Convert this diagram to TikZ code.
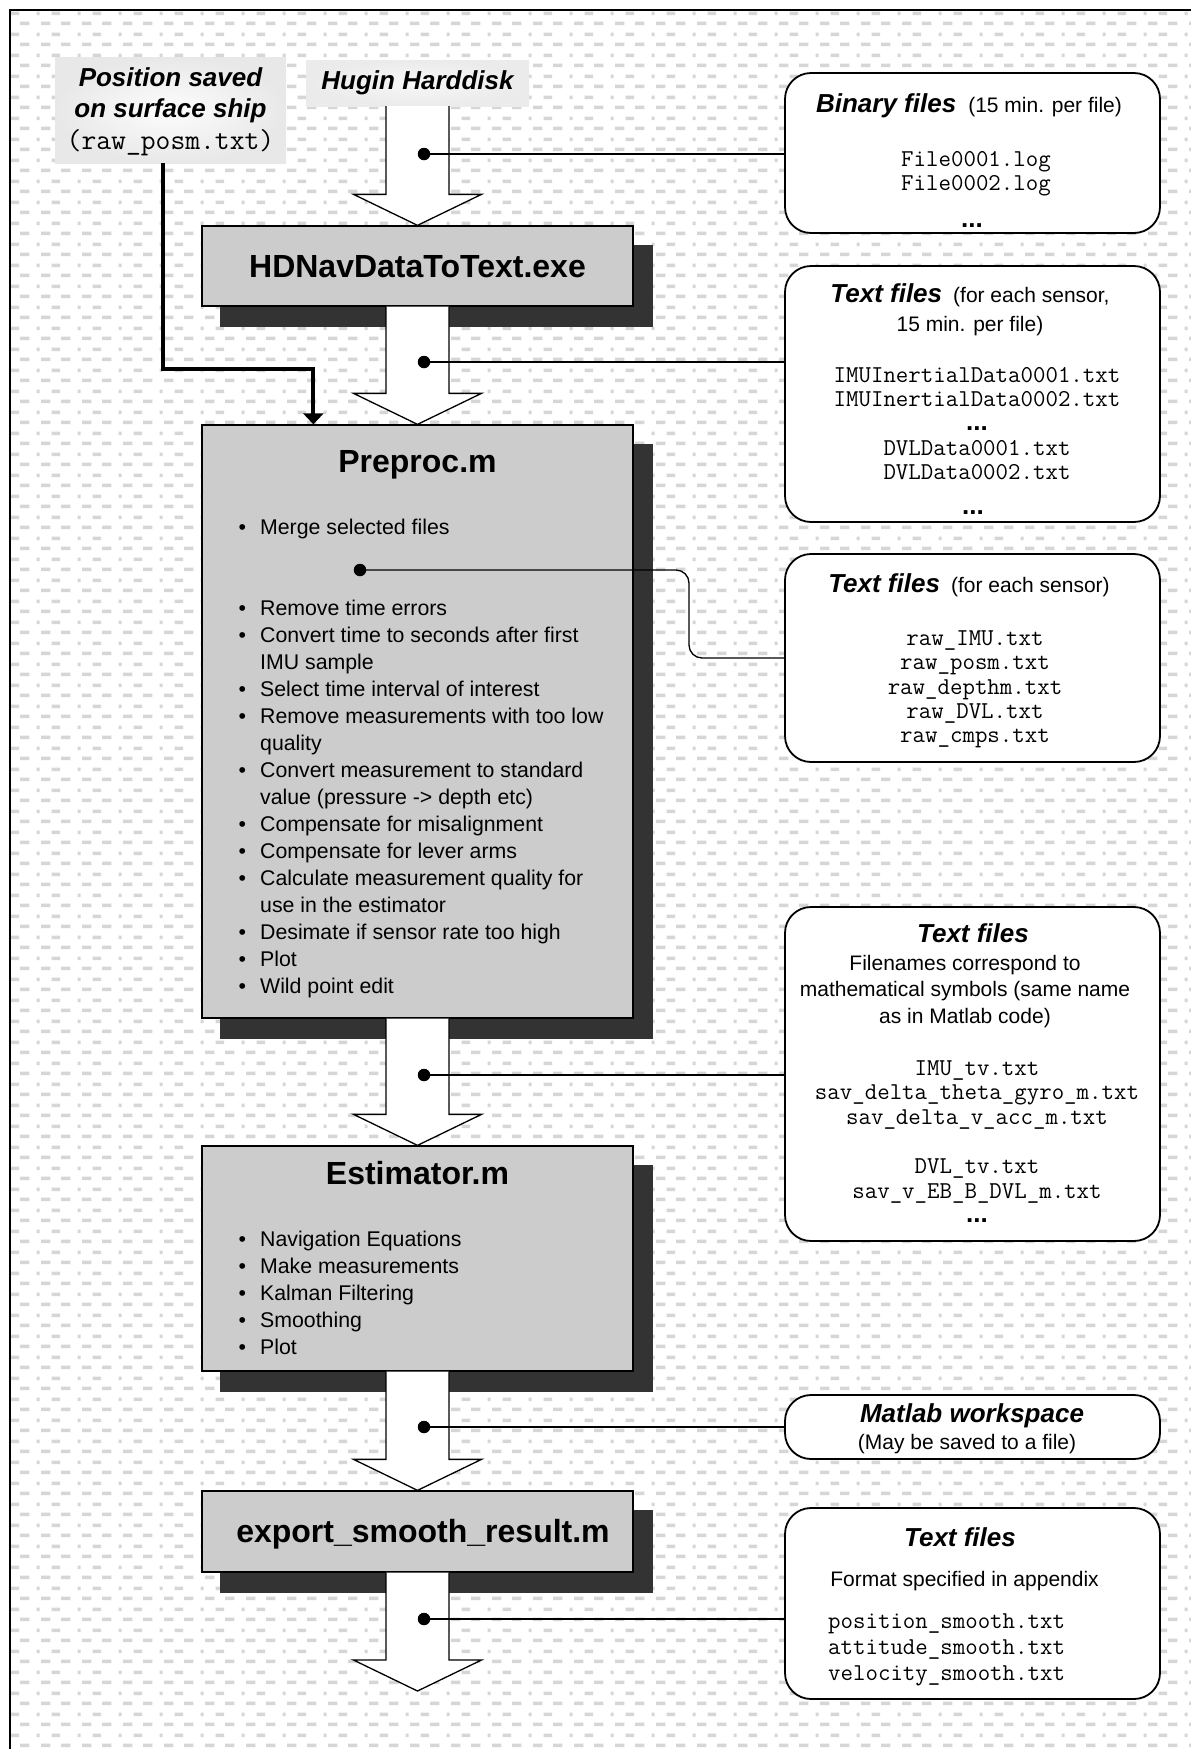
\documentclass[tikz,border=0pt]{standalone}
\usepackage{fontspec}
\setmainfont{Liberation Sans}
\usetikzlibrary{patterns,arrows.meta,calc}

\definecolor{procfill}{HTML}{CCCCCC}
\definecolor{shadowc}{HTML}{333333}
\definecolor{patc}{HTML}{D6D6D6}

\pgfdeclarepatternformonly{bgdash}{\pgfpoint{0pt}{0pt}}{\pgfpoint{41pt}{20.5pt}}{\pgfpoint{41pt}{20.5pt}}{%
  \pgfpathrectangle{\pgfpoint{0pt}{2pt}}{\pgfpoint{9.5pt}{3.6pt}}%
  \pgfpathrectangle{\pgfpoint{20.5pt}{2pt}}{\pgfpoint{9.5pt}{3.6pt}}%
  \pgfpathrectangle{\pgfpoint{11pt}{12.25pt}}{\pgfpoint{8.5pt}{3.6pt}}%
  \pgfpathrectangle{\pgfpoint{37.5pt}{12.25pt}}{\pgfpoint{3pt}{3.6pt}}%
  \pgfusepath{fill}%
}

\pgfdeclarelayer{back}
\pgfdeclarelayer{shad}
\pgfsetlayers{back,shad,main}

\newcommand\dgtitle{\fontsize{32}{38}\selectfont\bfseries}
\newcommand\dghead{\fontsize{26}{30}\selectfont\bfseries\itshape}
\newcommand\dgsub{\fontsize{21}{26.5}\selectfont\mdseries\upshape}
\newcommand\dgbody{\fontsize{21.3}{27.05}\selectfont}
\newcommand\dgmono{\fontsize{24.2}{24.4}\selectfont\ttfamily}
\newcommand\dgdots{{\fontsize{26}{24}\selectfont\rmfamily\bfseries\upshape ...}}

\newcommand\blockarrow[2]{%
  \path[barrow] let \p1=(#1), \p2=(#2) in
    (\x2-31.5pt,\y1) -- (\x2-31.5pt,\y2+31pt) -- (\x2-64pt,\y2+31pt) -- (\x2,\y2)
    -- (\x2+64pt,\y2+31pt) -- (\x2+31.5pt,\y2+31pt) -- (\x2+31.5pt,\y1);
}

\tikzset{
  pbox/.style={draw=black, line width=1.3pt, fill=procfill, inner sep=0pt, minimum width=431pt},
  rbox/.style={draw=black, line width=1.8pt, fill=white, rounded corners=26pt, minimum width=375pt, inner sep=0pt},
  barrow/.style={draw=black, fill=white, line width=1.3pt, line join=miter},
  dot/.style={circle, fill=black, inner sep=0pt, minimum size=12.5pt},
  conn/.style={draw=black, line width=1.3pt},
  thickconn/.style={draw=black, line width=4pt, -{Triangle[width=20pt,length=11pt]}},
  txt/.style={inner sep=0pt, anchor=base},
}

\begin{document}
\begin{tikzpicture}[x=1pt,y=-1pt]
\useasboundingbox (0,0) rectangle (1191,1749);
\begin{pgfonlayer}{back}
  \fill[white] (0,0) rectangle (1191,1749);
  \fill[pattern=bgdash, pattern color=patc] (10,10) rectangle (1191,1749);
  \draw[line width=1.2pt] (10,1749) -- (10,10) -- (1191,10);
\end{pgfonlayer}

% source boxes
\node[inner sep=0pt, minimum width=231pt, minimum height=106pt, inner color=gray!2, outer color=gray!18] (pos) at (170.5,110) {};
\node[inner sep=0pt, minimum width=223pt, minimum height=46pt, inner color=gray!6, outer color=gray!16] (hugin) at (417.5,83) {};

% process boxes
\node[pbox, minimum height=80pt] (hdnav) at (417.5,266) {};
\node[pbox, minimum height=593pt] (preproc) at (417.5,721.5) {};
\node[pbox, minimum height=225pt] (estim) at (417.5,1258.5) {};
\node[pbox, minimum height=81pt] (export) at (417.5,1531.5) {};

\begin{pgfonlayer}{shad}
  \foreach \n in {hdnav,preproc,estim,export}
    \fill[shadowc] ([shift={(19pt,-20pt)}]\n.north west) rectangle ([shift={(19pt,-20pt)}]\n.south east);
\end{pgfonlayer}

% block arrows
\coordinate (outend) at (417.5,1691);
\blockarrow{hugin.south}{hdnav.north}
\blockarrow{hdnav.south}{preproc.north}
\blockarrow{preproc.south}{estim.north}
\blockarrow{estim.south}{export.north}
\blockarrow{export.south}{outend}

% thick connector from ship position
\coordinate (pin) at ([xshift=112pt]preproc.north west);
\draw[thickconn] ([xshift=-7.5pt]pos.south) |- ([yshift=55pt]pin) -- (pin);

% right boxes
\node[rbox, minimum height=160pt] (b1) at (972.5,153) {};
\node[rbox, minimum height=256pt] (b2) at (972.5,394) {};
\node[rbox, minimum height=208pt] (b3) at (972.5,658) {};
\node[rbox, minimum height=334pt] (b4) at (972.5,1074) {};
\node[rbox, minimum height=64pt] (b5) at (972.5,1427) {};
\node[rbox, minimum height=191pt] (b6) at (972.5,1603.5) {};

% dots and connectors
\node[dot] (d1) at (424,154) {};
\node[dot] (d2) at (424,362) {};
\node[dot] (d3) at (360,570) {};
\node[dot] (d4) at (424,1075) {};
\node[dot] (d5) at (424,1427) {};
\node[dot] (d6) at (424,1619) {};
\coordinate (m3) at (689,614);
\draw[conn] (d1.center) -- (d1 -| b1.west);
\draw[conn] (d2.center) -- (d2 -| b2.west);
\draw[conn, rounded corners=13pt] (d3.center) -| (m3) |- (b3.west);
\draw[conn] (d4.center) -- (d4 -| b4.west);
\draw[conn] (d5.center) -- (d5 -| b5.west);
\draw[conn] (d6.center) -- (d6 -| b6.west);

% texts: sources
\node[txt] (postxt) at (170.5,86) {\fontsize{26}{31.5}\selectfont\begin{tabular}[t]{@{}c@{}}\bfseries\itshape Position saved\\ \bfseries\itshape on surface ship\\ {\fontsize{28.8}{31}\selectfont\ttfamily (raw\_posm.txt)}\end{tabular}};
\node[txt] (hugintxt) at (417.5,89) {\dghead Hugin Harddisk};

% texts: process boxes
\node[txt] (hdnavtxt) at (417.5,277) {\dgtitle HDNavDataToText.exe};
\node[txt] (preproctxt) at (417.5,472) {\dgtitle Preproc.m};
\node[txt] (estimtxt) at (417.5,1184) {\dgtitle Estimator.m};
\node[txt] (exporttxt) at (423,1542) {\dgtitle export\_smooth\_result.m};

\node[txt, anchor=base west] (pplist) at (238.3,534) {\dgbody\begin{tabular}[t]{@{}l@{\hspace{14.2pt}}l@{}}
\textbullet & Merge selected files\\
 & \\
 & \\
\textbullet & Remove time errors\\
\textbullet & Convert time to seconds after first\\
 & IMU sample\\
\textbullet & Select time interval of interest\\
\textbullet & Remove measurements with too low\\
 & quality\\
\textbullet & Convert measurement to standard\\
 & value (pressure -> depth etc)\\
\textbullet & Compensate for misalignment\\
\textbullet & Compensate for lever arms\\
\textbullet & Calculate measurement quality for\\
 & use in the estimator\\
\textbullet & Desimate if sensor rate too high\\
\textbullet & Plot\\
\textbullet & Wild point edit
\end{tabular}};

\node[txt, anchor=base west] (eslist) at (238.3,1246) {\dgbody\begin{tabular}[t]{@{}l@{\hspace{14.2pt}}l@{}}
\textbullet & Navigation Equations\\
\textbullet & Make measurements\\
\textbullet & Kalman Filtering\\
\textbullet & Smoothing\\
\textbullet & Plot
\end{tabular}};

% texts: box 1
\node[txt] (b1h) at (969,112) {{\dghead Binary files}\hspace{12pt}{\dgsub (15 min. per file)}};
\node[txt] (b1m) at (976,166) {\dgmono\begin{tabular}[t]{@{}c@{}}File0001.log\\File0002.log\end{tabular}};
\node[txt] (b1d) at (972,227) {\dgdots};

% box 2
\node[txt] (b2h) at (970,302) {\dgsub\fontsize{21}{29}\selectfont\begin{tabular}[t]{@{}c@{}}{\dghead Text files}\hspace{11pt}(for each sensor,\\15 min. per file)\end{tabular}};
\node[txt] (b2m) at (977,382) {\dgmono\begin{tabular}[t]{@{}c@{}}IMUInertialData0001.txt\\IMUInertialData0002.txt\\\dgdots\\DVLData0001.txt\\DVLData0002.txt\end{tabular}};
\node[txt] (b2d) at (973,514) {\dgdots};

% box 3
\node[txt] (b3h) at (969,592) {{\dghead Text files}\hspace{11pt}{\dgsub (for each sensor)}};
\node[txt] (b3m) at (975,645.5) {\dgmono\fontsize{24.2}{24.3}\selectfont\begin{tabular}[t]{@{}c@{}}raw\_IMU.txt\\raw\_posm.txt\\raw\_depthm.txt\\raw\_DVL.txt\\raw\_cmps.txt\end{tabular}};

% box 4
\node[txt] (b4h) at (973,942) {\dghead Text files};
\node[txt] (b4b) at (965,970) {\dgsub\begin{tabular}[t]{@{}c@{}}Filenames correspond to\\mathematical symbols (same name\\as in Matlab code)\end{tabular}};
\node[txt] (b4m) at (977,1075) {\dgmono\fontsize{24.2}{24.6}\selectfont\begin{tabular}[t]{@{}c@{}}IMU\_tv.txt\\sav\_delta\_theta\_gyro\_m.txt\\sav\_delta\_v\_acc\_m.txt\\ \\DVL\_tv.txt\\sav\_v\_EB\_B\_DVL\_m.txt\\\dgdots\end{tabular}};

% box 5
\node[txt] (b5h) at (972,1422) {\dghead Matlab workspace};
\node[txt] (b5s) at (967,1449) {\dgsub (May be saved to a file)};

% box 6
\node[txt] (b6h) at (960,1546) {\dghead Text files};
\node[txt] (b6s) at (964.5,1586) {\dgsub Format specified in appendix};
\node[txt, anchor=base west] (b6m) at (828,1628) {\dgmono\fontsize{24.2}{26}\selectfont\begin{tabular}[t]{@{}l@{}}position\_smooth.txt\\attitude\_smooth.txt\\velocity\_smooth.txt\end{tabular}};
\end{tikzpicture}
\end{document}
